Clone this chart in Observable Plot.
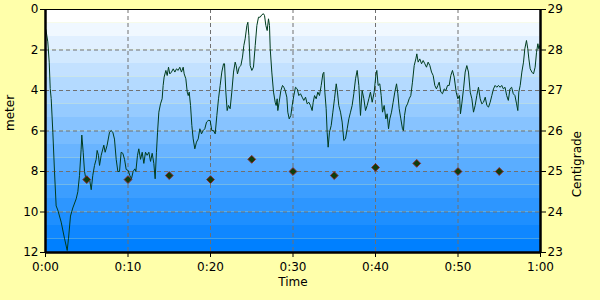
<!DOCTYPE html>
<html>
<head>
<meta charset="utf-8">
<script src="https://cdn.jsdelivr.net/npm/d3@7"></script>
<script src="https://cdn.jsdelivr.net/npm/@observablehq/plot@0.6"></script>
<style>
  html, body { margin: 0; padding: 0; background: #ffffaa; }
  #chart { width: 600px; height: 300px; }
</style>
</head>
<body>
<div id="chart"></div>
<script>
// Depth series (minutes, meters)
const depthMinutes = [0.05,0.28,0.45,0.57,0.69,0.89,1.09,1.29,1.49,1.9,2.3,2.63,2.79,3.03,3.31,3.72,3.92,4.12,4.32,4.4,4.57,4.73,4.93,5.33,5.54,5.73,5.94,6.14,6.26,6.42,6.55,6.75,7.07,7.23,7.47,7.76,7.96,8.16,8.36,8.57,8.77,8.97,9.17,9.37,9.58,9.78,10.02,10.22,10.42,10.62,10.83,10.95,11.15,11.31,11.52,11.72,11.92,12.12,12.32,12.53,12.73,12.93,13.13,13.29,13.45,13.58,13.74,13.94,14.14,14.26,14.38,14.59,14.75,14.91,15.07,15.27,15.48,15.68,15.88,16.08,16.28,16.48,16.69,16.81,17.01,17.18,17.3,17.42,17.58,17.74,17.9,18.1,18.3,18.51,18.71,18.91,19.11,19.31,19.52,19.72,19.96,20.16,20.36,20.57,20.77,20.97,21.17,21.37,21.58,21.7,21.86,22.02,22.18,22.38,22.58,22.79,22.99,23.11,23.27,23.48,23.68,23.88,24.04,24.2,24.41,24.53,24.65,24.81,25.01,25.21,25.42,25.62,25.82,26.02,26.22,26.42,26.55,26.71,26.87,27.03,27.15,27.24,27.43,27.64,27.84,27.96,28.08,28.16,28.32,28.53,28.73,28.89,29.05,29.25,29.37,29.54,29.74,29.9,30.1,30.3,30.51,30.71,30.91,31.11,31.31,31.52,31.72,31.92,32.12,32.32,32.45,32.61,32.81,33.01,33.21,33.42,33.62,33.74,33.86,34.02,34.14,34.26,34.42,34.63,34.83,35.03,35.24,35.39,35.55,35.76,35.96,36.16,36.36,36.57,36.77,36.97,37.17,37.37,37.58,37.78,37.98,38.18,38.38,38.59,38.79,38.99,39.19,39.39,39.6,39.84,40.04,40.16,40.32,40.52,40.69,40.85,41.05,41.25,41.41,41.58,41.74,41.94,42.14,42.34,42.55,42.71,42.87,43.07,43.27,43.39,43.52,43.68,43.88,44.08,44.28,44.48,44.69,44.89,45.01,45.17,45.37,45.58,45.78,45.98,46.18,46.38,46.59,46.79,46.99,47.19,47.39,47.56,47.72,47.92,48.12,48.33,48.53,48.73,48.93,49.13,49.33,49.54,49.78,49.98,50.18,50.3,50.46,50.67,50.87,51.07,51.27,51.48,51.68,51.88,52.08,52.28,52.48,52.69,52.89,53.09,53.3,53.5,53.7,53.9,54.1,54.3,54.5,54.7,54.9,55.1,55.3,55.5,55.7,55.9,56.1,56.3,56.5,56.7,56.9,57.1,57.25,57.37,57.54,57.74,57.94,58.1,58.3,58.46,58.59,58.75,58.95,59.15,59.35,59.52,59.68,59.8,59.95];
const depthMeters = [1.0,1.6,2.6,3.9,4.4,6.06,8.0,9.7,9.9,10.5,11.3,11.9,11.3,10.2,9.8,9.35,9.0,8.2,6.9,6.2,7.05,8.0,8.45,8.36,8.9,8.2,7.7,7.4,6.96,7.2,7.7,7.2,6.7,7.05,6.7,6.06,5.98,6.06,6.4,7.4,8.0,8.0,7.05,7.1,7.4,7.9,7.95,8.2,8.36,8.0,7.87,8.0,7.2,6.88,7.4,7.05,7.6,7.05,7.2,7.05,7.5,7.1,7.6,8.36,7.05,6.06,5.07,4.66,4.41,3.75,3.34,3.01,3.26,2.85,3.18,3.09,2.93,3.09,2.93,3.01,2.85,3.09,2.85,3.18,3.42,4.08,4.25,4.08,4.74,5.73,6.39,6.88,6.55,6.39,5.89,6.14,5.98,5.89,5.56,5.48,5.48,5.98,5.98,6.14,5.23,4.41,3.75,3.09,2.68,2.68,4.08,4.99,4.74,4.9,4.08,3.09,2.6,2.77,3.18,2.85,2.77,2.35,1.78,1.45,0.79,0.63,1.28,2.77,3.01,2.85,1.78,0.79,0.38,0.38,0.26,0.21,0.3,0.79,1.04,0.46,0.79,1.94,3.09,4.08,4.58,4.74,4.41,4.99,4.58,4.0,3.75,3.84,4.0,4.33,5.07,5.4,5.23,4.74,4.25,3.84,3.92,4.25,4.16,4.33,4.49,4.33,4.66,4.58,4.74,4.99,4.58,4.25,4.41,4.08,4.25,3.75,3.18,3.1,4.08,4.9,6.06,6.8,6.06,5.73,5.07,4.41,3.67,4.08,4.74,5.07,5.56,6.47,6.39,5.89,5.4,5.07,4.74,4.16,3.42,3.01,3.75,5.23,4.0,4.41,4.99,4.74,4.41,4.08,4.58,4.08,3.26,3.01,3.75,3.67,4.25,5.07,4.74,5.4,5.15,5.89,5.4,5.07,4.58,4.08,3.67,4.16,4.9,5.4,5.89,5.98,5.23,4.82,4.66,4.41,4.25,3.59,2.77,2.44,2.19,2.6,2.44,2.68,2.52,2.68,2.85,2.6,2.77,3.09,3.26,3.75,3.92,3.75,3.59,4.08,4.16,3.92,4.0,3.75,3.75,3.26,3.01,3.34,4.08,4.41,4.25,5.15,4.66,3.92,3.09,2.77,3.09,4.08,4.41,5.07,4.74,4.25,3.84,4.41,4.66,4.58,4.33,4.74,4.82,4.58,4.25,3.92,3.75,3.84,3.75,3.84,3.75,3.92,3.84,4.25,4.49,3.92,3.84,4.16,4.25,4.66,4.99,4.08,3.75,3.09,2.6,1.94,1.53,1.94,2.44,2.93,3.09,3.18,2.85,2.11,1.69,1.94,1.75];

// Temperature series (minutes, degrees C)
const tempMinutes = [5,10,15,20,25,30,35,40,45,50,55];
const tempCelsius = [24.8,24.8,24.9,24.8,25.3,25.0,24.9,25.1,25.2,25.0,25.0];

// Axes
const timeTicks = [0,10,20,30,40,50,60];
const timeTickLabels = ["0:00","0:10","0:20","0:30","0:40","0:50","1:00"];
const depthTicks = [0,2,4,6,8,10,12];
const depthTickLabels = ["0","2","4","6","8","10","12"];
const tempTickLabels = ["29","28","27","26","25","24","23"];
const tempTop = 29, metersPerDegree = 2;

const depthData = depthMinutes.map((t, i) => ({t, d: depthMeters[i]}));
const tempData = tempMinutes.map((t, i) => ({t, c: tempCelsius[i], d: (tempTop - tempCelsius[i]) * metersPerDegree}));

const nBands = 18;
const bands = d3.range(nBands);
const bandColor = d3.interpolateRgb("#ffffff", "#0080ff");

const chart = Plot.plot({
  width: 600,
  height: 300,
  marginLeft: 45,
  marginRight: 60,
  marginTop: 9,
  marginBottom: 48,
  style: {background: "transparent", fontFamily: "DejaVu Sans", fontSize: "12px", color: "black"},
  x: {domain: [0, 60]},
  y: {domain: [0, 12], reverse: true},
  color: {type: "identity"},
  marks: [
    Plot.rect(bands, {y1: i => i * 12 / nBands, y2: i => (i + 1) * 12 / nBands, fill: i => bandColor(i / (nBands - 1)), inset: 0}),
    Plot.ruleX(timeTicks.slice(1, -1), {stroke: "#707070", strokeDasharray: "4,3", strokeWidth: 1}),
    Plot.ruleY(depthTicks.slice(1, -1), {stroke: "#707070", strokeDasharray: "4,3", strokeWidth: 1}),
    Plot.line(depthData, {x: "t", y: "d", stroke: "#003c1e", strokeWidth: 1}),
    Plot.dot(tempData, {x: "t", y: "d", symbol: "diamond2", r: 3.5, fill: "#0d3d0d", stroke: "#8b2a2a", strokeWidth: 1}),
    Plot.ruleY([0], {stroke: "black", strokeWidth: 1}),
    Plot.ruleY([12], {stroke: "black", strokeWidth: 2.5}),
    Plot.ruleX([0, 60], {stroke: "black", strokeWidth: 2.5}),
    Plot.axisX({ticks: timeTicks, tickFormat: (d, i) => timeTickLabels[i], tickSize: 5, tickPadding: 5, label: null, fontSize: 12}),
    Plot.axisY({anchor: "left", ticks: depthTicks, tickFormat: (d, i) => depthTickLabels[i], tickSize: 5, tickPadding: 2, label: null, fontSize: 12}),
    Plot.axisY({anchor: "right", ticks: depthTicks, tickFormat: (d, i) => tempTickLabels[i], tickSize: 5, tickPadding: 2, label: null, fontSize: 12}),
    Plot.text(["meter"], {frameAnchor: "left", rotate: -90, dx: -35, fontSize: 12}),
    Plot.text(["Centigrade"], {frameAnchor: "right", rotate: -90, dx: 37, fontSize: 12}),
    Plot.text(["Time"], {frameAnchor: "bottom", dy: 33, fontSize: 12})
  ]
});
document.getElementById("chart").appendChild(chart);
</script>
</body>
</html>
